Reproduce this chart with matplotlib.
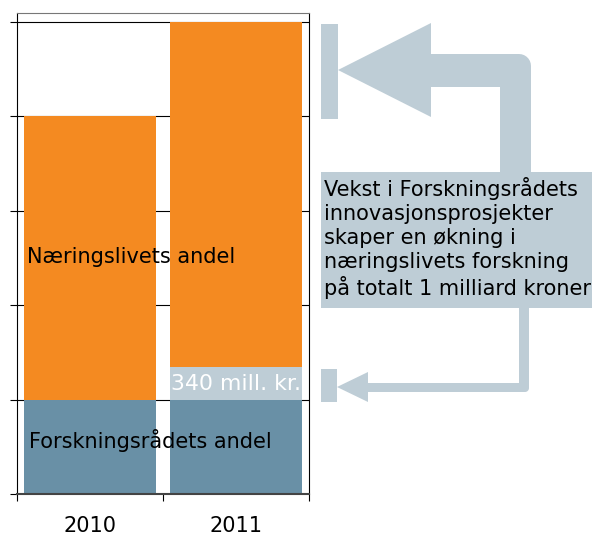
import numpy as np
import matplotlib
matplotlib.use("Agg")
import matplotlib.pyplot as plt
from matplotlib.patches import Polygon, Rectangle
from matplotlib.transforms import Affine2D

# data (mill. kr.)
years = ["2010", "2011"]
forskningsradet = [1000, 1000]
okning = [0, 340]
naeringsliv = [3000, 3660]

W, H = 592, 535
BLUE = "#6990a6"
ORANGE = "#f48a21"
LIGHT = "#becdd6"
FS = 15

plt.rcParams['font.family'] = ['DejaVu Sans']

fig = plt.figure(figsize=(W / 100, H / 100), dpi=100)
ax = fig.add_axes([17 / W, 1 - 494 / H, 292 / W, 481 / H])

x = np.arange(len(years))
bottom2 = np.array(forskningsradet) + np.array(okning)
ax.bar(x, forskningsradet, width=0.91, color=BLUE, zorder=2)
ax.bar(x, okning, width=0.91, bottom=forskningsradet, color=LIGHT, zorder=2)
ax.bar(x, naeringsliv, width=0.91, bottom=bottom2, color=ORANGE, zorder=2)

ax.set_xlim(-0.5, 1.5)
ax.set_ylim(0, 5095)
ax.set_yticks(np.arange(0, 5001, 1000))
ax.set_yticklabels([])
ax.tick_params(axis="y", direction="out", length=5, width=0.8, color="black")
ax.grid(axis="y", color="black", linewidth=0.8, zorder=0)
ax.set_axisbelow(True)

ax.set_xticks([-0.5, 0.5, 1.5])
ax.set_xticklabels([])
ax.set_xticks(x, minor=True)
ax.set_xticklabels(years, minor=True, fontsize=FS)
ax.tick_params(axis="x", which="major", direction="out", length=5, width=0.8)
ax.tick_params(axis="x", which="minor", length=0, pad=16)

for s in ax.spines.values():
    s.set_linewidth(0.8)
    s.set_color("black")
ax.spines["top"].set_color("#777777")
ax.spines["bottom"].set_color("#444444")
ax.spines["bottom"].set_linewidth(1.5)

ax.text(-0.43, 2510, "Næringslivets andel", fontsize=FS, va="center", ha="left", zorder=3)
ax.text(-0.42, 570, "Forskningsrådets andel", fontsize=FS, va="center", ha="left", zorder=3)
ax.text(1.0, forskningsradet[1] + okning[1] / 2, "340 mill. kr.", fontsize=15.8,
        color="white", va="center", ha="center", zorder=3)

# annotation arrows, figure pixel coordinates (y down)
px = Affine2D().scale(1 / W, -1 / H).translate(0, 1) + fig.transFigure


def corner(cx, cy, r, a0, a1):
    t = np.linspace(np.radians(a0), np.radians(a1), 8)
    return [(cx + r * np.cos(t_), cy - r * np.sin(t_)) for t_ in t]


r = 12
upper = [(338, 70), (431, 23), (431, 54)] + corner(531 - r, 54 + r, r, 90, 0) + \
        [(531, 173), (500, 173), (500, 87), (431, 87), (431, 117)]
fig.patches.append(Polygon(upper, closed=True, transform=px, facecolor=LIGHT, edgecolor="none"))
fig.patches.append(Rectangle((321, 24), 17, 95, transform=px, facecolor=LIGHT, edgecolor="none"))

r2 = 4
lower = [(337, 387), (368, 372), (368, 383), (519, 383), (519, 307), (529, 307)] + \
        corner(529 - r2, 392 - r2, r2, 0, -90) + [(368, 392), (368, 402)]
fig.patches.append(Polygon(lower, closed=True, transform=px, facecolor=LIGHT, edgecolor="none"))
fig.patches.append(Rectangle((321, 369), 16, 33, transform=px, facecolor=LIGHT, edgecolor="none"))

fig.patches.append(Rectangle((321, 172), 280, 136, transform=px, facecolor=LIGHT, edgecolor="none"))
fig.text(324 / W, 1 - 177 / H,
         "Vekst i Forskningsrådets\ninnovasjonsprosjekter\nskaper en økning i\n"
         "næringslivets forskning\npå totalt 1 milliard kroner",
         fontsize=FS, va="top", ha="left", linespacing=1.24)

fig.savefig("out.png", dpi=100)
